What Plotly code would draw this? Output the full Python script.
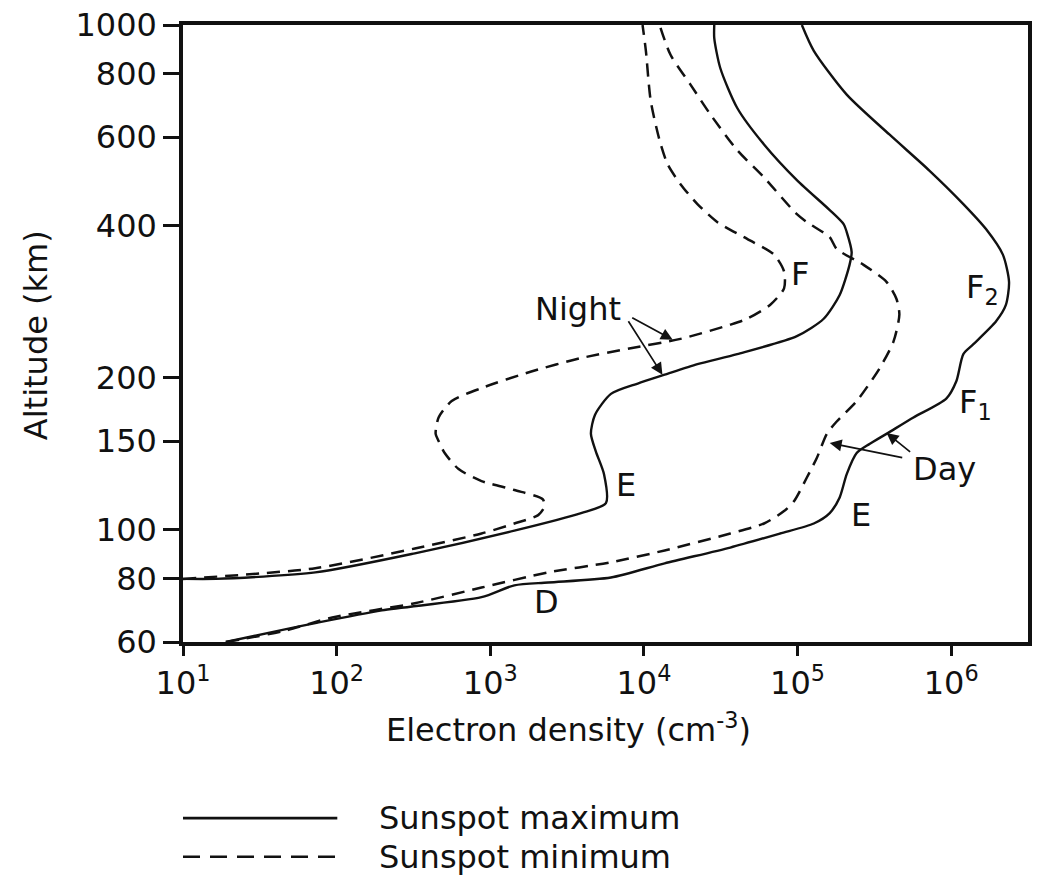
import numpy as np
import plotly.graph_objects as go

# ---------------- data ----------------
night_max_density = [10, 16.4, 72.6, 323, 1435, 3900, 5660, 5500, 4870, 4520, 4800, 6100,
                     9120, 13650, 22300, 40500, 99000, 148000, 188000, 218000, 225000,
                     209000, 200000, 162000, 99000, 60500, 40500, 31400, 28700, 28700]
night_max_alt = [80, 80, 82.4, 89.9, 99.7, 108, 113, 129, 143, 155, 169, 186,
                 195, 203, 213, 223, 242, 262, 292, 335, 355,
                 389, 403, 430, 493, 580, 685, 822, 942, 1000]

night_min_density = [10, 72.6, 323, 877, 1435, 2050, 2245, 2200, 1435, 877, 622, 505, 461,
                     441, 461, 561, 877, 1850, 3900, 8200, 17300, 36500, 47000, 66200,
                     81700, 81700, 70300, 47000, 30100, 22300, 17300, 14260, 12650,
                     11070, 10300, 9800]
night_min_alt = [80, 84.0, 91.9, 98.4, 103, 107, 111, 115, 120, 125, 132, 142, 150,
                 155, 167, 180, 191, 206, 219, 229, 239, 255, 262, 279,
                 301, 325, 351, 377, 407, 442, 484, 530, 591,
                 708, 889, 1000]

day_max_density = [19, 44.5, 72.6, 197, 877, 1435, 2380, 6100, 13650, 36500, 76900,
                   127600, 162000, 188000, 209000, 242600, 294000, 379000, 568000,
                   929000, 1.08e6, 1.2e6, 1.39e6, 1.96e6, 2.27e6, 2.38e6, 2.17e6,
                   1.69e6, 1.2e6, 721000, 396000, 209000, 127600, 106700]
day_max_alt = [60, 63.4, 65.4, 69.3, 73.6, 77.7, 78.7, 80.5, 85.9, 92.3, 98.4,
               103, 108, 116, 129, 142, 148, 155, 167,
               182, 197, 223, 233, 259, 279, 310, 351,
               394, 442, 515, 607, 728, 889, 1000]

day_min_density = [19, 44.5, 93.6, 323, 877, 2380, 6100, 13650, 36500, 60500, 81700,
                   94800, 115000, 133700, 155000, 180000, 242600, 342000, 421000,
                   460000, 440000, 379000, 269000, 180000, 162000, 115000, 99000,
                   60500, 40500, 27100, 20100, 14900, 12650]
day_min_alt = [60, 63, 67.1, 71.6, 76.9, 82.4, 86.3, 91.1, 98.4, 103, 109,
               114, 127, 139, 155, 164, 180, 209, 236,
               267, 287, 310, 335, 360, 380, 407, 422,
               499, 565, 665, 762, 873, 1000]

x_tick_vals = [10, 100, 1000, 10000, 100000, 1000000]
x_tick_text = ["10<sup>1</sup>", "10<sup>2</sup>", "10<sup>3</sup>",
               "10<sup>4</sup>", "10<sup>5</sup>", "10<sup>6</sup>"]
y_tick_vals = [60, 80, 100, 150, 200, 400, 600, 800, 1000]
y_tick_text = ["60", "80", "100", "150", "200", "400", "600", "800", "1000"]

# ---------------- figure ----------------
FONT = "DejaVu Sans"
FS = 32
BLACK = "#111111"

fig = go.Figure()

solid = dict(color=BLACK, width=2.4, shape="spline", smoothing=0.7)
dashed = dict(color=BLACK, width=2.5, dash="13px,8px", shape="spline", smoothing=0.7)

fig.add_trace(go.Scatter(x=night_max_density, y=night_max_alt, mode="lines",
                         line=solid, name="Sunspot maximum (night)", showlegend=False))
fig.add_trace(go.Scatter(x=day_max_density, y=day_max_alt, mode="lines",
                         line=solid, name="Sunspot maximum (day)", showlegend=False))
fig.add_trace(go.Scatter(x=night_min_density, y=night_min_alt, mode="lines",
                         line=dashed, name="Sunspot minimum (night)", showlegend=False))
fig.add_trace(go.Scatter(x=day_min_density, y=day_min_alt, mode="lines",
                         line=dashed, name="Sunspot minimum (day)", showlegend=False))

fig.update_xaxes(type="log", range=[1, 6.5], tickvals=x_tick_vals, ticktext=x_tick_text,
                 showgrid=False, zeroline=False, showline=True, linecolor=BLACK,
                 linewidth=3.5, mirror=True, ticks="outside", ticklen=10, tickwidth=3,
                 tickcolor=BLACK, tickfont=dict(family=FONT, size=FS, color=BLACK))
fig.update_yaxes(type="log", range=[np.log10(60), 3], tickvals=y_tick_vals,
                 ticktext=y_tick_text, showgrid=False, zeroline=False, showline=True,
                 linecolor=BLACK, linewidth=3.5, mirror=True, ticks="outside",
                 ticklen=16, tickwidth=3, tickcolor=BLACK,
                 tickfont=dict(family=FONT, size=FS, color=BLACK))

txt = dict(family=FONT, size=FS, color=BLACK)


def label(text, dens, alt, **kw):
    fig.add_annotation(x=np.log10(dens), y=np.log10(alt), xref="x", yref="y",
                       xanchor="center", yanchor="middle",
                       text=text, showarrow=False, font=txt, **kw)


# region labels
label("F", 1.04e5, 322)
label("Night", 3720, 274)
label("E", 7620, 123)
label("F<sub>2</sub>", 1.6e6, 300)
label("F<sub>1</sub>", 1.45e6, 178)
label("Day", 9.0e5, 132)
label("E", 2.6e5, 107)
label("D", 2310, 72)


def arrow(dens, alt, ax, ay):
    fig.add_annotation(x=np.log10(dens), y=np.log10(alt), xref="x", yref="y",
                       text="", showarrow=True, ax=ax, ay=ay, arrowhead=2,
                       arrowsize=1.4, arrowwidth=1.7, arrowcolor=BLACK)


arrow(15400, 238, -42, -23)
arrow(13200, 203, -35, -55)
arrow(1.62e5, 148.7, 74, 15)
arrow(3.8e5, 155.6, 25, 20)

# axis titles
fig.add_annotation(x=0.4558, y=-0.139, xref="paper", yref="paper",
                   xanchor="center", yanchor="middle",
                   text="Electron density (cm<sup>-3</sup>)", showarrow=False, font=txt)
fig.add_annotation(x=-0.173, y=0.497, xref="paper", yref="paper",
                   xanchor="center", yanchor="middle",
                   text="Altitude (km)", textangle=-90, showarrow=False, font=txt)

# legend (drawn)
fig.add_shape(type="line", xref="paper", yref="paper", x0=0, x1=0.1826,
              y0=-0.2855, y1=-0.2855, line=dict(color=BLACK, width=2.6))
fig.add_shape(type="line", xref="paper", yref="paper", x0=0, x1=0.1826,
              y0=-0.348, y1=-0.348, line=dict(color=BLACK, width=2.6, dash="17px,10px"))
fig.add_annotation(x=0.2297, y=-0.2855, xref="paper", yref="paper",
                   xanchor="left", yanchor="middle",
                   text="Sunspot maximum", showarrow=False, font=txt)
fig.add_annotation(x=0.2297, y=-0.348, xref="paper", yref="paper",
                   xanchor="left", yanchor="middle",
                   text="Sunspot minimum", showarrow=False, font=txt)

fig.update_layout(width=1038, height=880, margin=dict(l=183, r=6, t=22, b=238),
                  paper_bgcolor="white", plot_bgcolor="white", showlegend=False,
                  font=dict(family=FONT, color=BLACK))

fig.write_html("out.html")
